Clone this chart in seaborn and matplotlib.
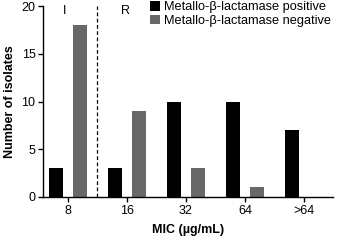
import numpy as np
import pandas as pd
import matplotlib
matplotlib.use('Agg')
import matplotlib.pyplot as plt
import seaborn as sns
from matplotlib.patches import Patch

# data
mic = ['8', '16', '32', '64', '>64']
positive = [3, 3, 10, 10, 7]
negative = [18, 9, 3, 1, 0]
groups = ['Metallo-β-lactamase positive', 'Metallo-β-lactamase negative']
colors = ['#000000', '#686868']

df = pd.DataFrame({
    'MIC': mic * 2,
    'count': positive + negative,
    'group': [groups[0]] * len(mic) + [groups[1]] * len(mic),
})

sns.set_style('ticks')
plt.rcParams['font.family'] = ['Liberation Sans', 'DejaVu Sans']
plt.rcParams['text.color'] = 'black'
plt.rcParams['axes.labelcolor'] = 'black'
plt.rcParams['xtick.color'] = 'black'
plt.rcParams['ytick.color'] = 'black'
plt.rcParams['axes.edgecolor'] = 'black'

fig = plt.figure(figsize=(3.37, 2.42), dpi=100)
ax = fig.add_axes([0.128, 0.186, 0.86, 0.789])

sns.barplot(data=df, x='MIC', y='count', hue='group', order=mic,
            hue_order=groups, palette=colors, gap=0.4, width=0.8,
            saturation=1, legend=False, ax=ax, edgecolor='none')

ax.set_xlim(-0.42, 4.49)
ax.set_ylim(0, 20)
ax.set_yticks([0, 5, 10, 15, 20])
ax.axvline(0.5, color='black', linestyle=(0, (3, 2)), linewidth=0.9)
ax.text(-0.05, 19.45, 'I', ha='center', va='center', fontsize=9)
ax.text(0.97, 19.45, 'R', ha='center', va='center', fontsize=9)

sns.despine(ax=ax)
for s in ['left', 'bottom']:
    ax.spines[s].set_linewidth(1.0)
ax.tick_params(axis='both', labelsize=9, width=1.0, length=3.5, pad=2)

ax.set_xlabel('MIC (µg/mL)', fontweight='bold', fontsize=9, labelpad=5)
ax.set_ylabel('Number of isolates', fontweight='bold', fontsize=9, labelpad=4)

handles = [Patch(facecolor=c, edgecolor='none') for c in colors]
ax.legend(handles, groups, loc='upper left', bbox_to_anchor=(0.368, 1.025),
          frameon=False, handlelength=0.8, handleheight=0.75,
          handletextpad=0.35, labelspacing=0.12, fontsize=9.2,
          borderpad=0, borderaxespad=0)

fig.savefig('out.png', dpi=100)
